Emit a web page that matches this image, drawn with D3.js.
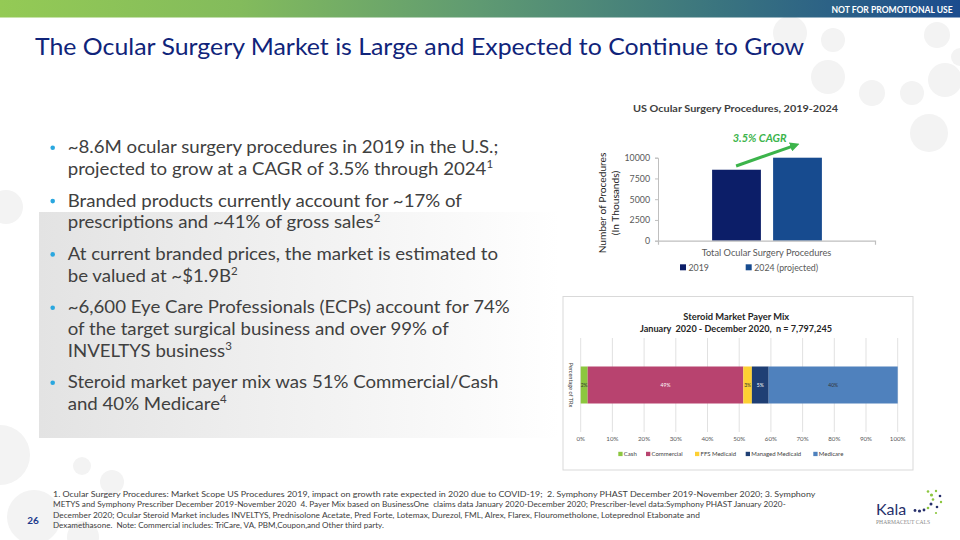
<!DOCTYPE html>
<html><head><meta charset="utf-8">
<script src="https://cdn.jsdelivr.net/npm/d3@7"></script>
<style>html,body{margin:0;padding:0;background:#fff}svg{display:block}text{white-space:pre}</style>
</head><body>
<svg id="c" width="960" height="540"></svg>
<script>
// ---------- data ----------
const procCategories = ["Total Ocular Surgery Procedures"];
const procSeries = ["2019", "2024 (projected)"];
const procValues = [8550, 10000];
const procTicks = [0, 2500, 5000, 7500, 10000];
const procColors = ["#0c1e68", "#174b8f"];

const payerCategories = ["Cash", "Commercial", "FFS Medicaid", "Managed Medicaid", "Medicare"];
const payerValues = [2.2, 49.1, 2.7, 5.3, 40.7];
const payerLabels = ["2%", "49%", "3%", "5%", "40%"];
const payerTicks = [0, 10, 20, 30, 40, 50, 60, 70, 80, 90, 100];
const payerColors = ["#8cc63f", "#b8436f", "#fdd033", "#1f3f74", "#4f81bd"];
const payerLabelColors = ["#333", "#fff", "#333", "#fff", "#333"];

const bullets = [
  [["~8.6M ocular surgery procedures in 2019 in the U.S.;"], ["projected to grow at a CAGR of 3.5% through 2024", "1"]],
  [["Branded products currently account for ~17% of"], ["prescriptions and ~41% of gross sales", "2"]],
  [["At current branded prices, the market is estimated to"], ["be valued at ~$1.9B", "2"]],
  [["~6,600 Eye Care Professionals (ECPs) account for 74%"], ["of the target surgical business and over 99% of"], ["INVELTYS business", "3"]],
  [["Steroid market payer mix was 51% Commercial/Cash"], ["and 40% Medicare", "4"]]
];
const footnotes = [
  "1. Ocular Surgery Procedures: Market Scope US Procedures 2019, impact on growth rate expected in 2020 due to COVID-19;  2. Symphony PHAST December 2019-November 2020; 3. Symphony",
  "METYS and Symphony Prescriber December 2019-November 2020  4. Payer Mix based on BusinessOne  claims data January 2020-December 2020; Prescriber-level data:Symphony PHAST January 2020-",
  "December 2020; Ocular Steroid Market includes INVELTYS, Prednisolone Acetate, Pred Forte, Lotemax, Durezol, FML, Alrex, Flarex, Flourometholone, Loteprednol Etabonate and",
  "Dexamethasone.  Note: Commercial includes: TriCare, VA, PBM,Coupon,and Other third party."
];

// ---------- helpers ----------
const svg = d3.select("#c");
const FONT = "Lato, 'Open Sans', sans-serif";
function fitW(sel, target, ax) {
  const n = sel.node(); const w = n.getBBox().width;
  if (!w) return 1;
  const k = target / w;
  sel.attr("transform", `translate(${ax},0) scale(${k},1) translate(${-ax},0)`);
  return k;
}

// ---------- background ----------
const defs = svg.append("defs");
const hg = defs.append("linearGradient").attr("id", "hdr").attr("x1", 0).attr("x2", 1).attr("y1", 0).attr("y2", 0);
[["0", "#94ca55"], ["0.25", "#83bb5c"], ["0.5", "#5f9a72"], ["0.75", "#3a747f"], ["1", "#1b4c8e"]].forEach(s => hg.append("stop").attr("offset", s[0]).attr("stop-color", s[1]));
const pg = defs.append("linearGradient").attr("id", "pnl").attr("x1", 0).attr("x2", 1).attr("y1", 0).attr("y2", 0);
pg.append("stop").attr("offset", 0).attr("stop-color", "#e3e3e3");
pg.append("stop").attr("offset", 1).attr("stop-color", "#ffffff");

const bgCircles = [[790, 33, 17], [833, 40, 12], [828, 77, 17], [872, 93, 13], [912, 93, 12], [937, 35, 13], [945, 80, 17], [929, 133, 19], [853, 8, 10], [960, 57, 9],
  [0, 455, 30], [82, 466, 9], [112, 482, 12], [34, 517, 27], [83, 537, 16], [6, 207, 17]];
svg.append("g").selectAll("circle").data(bgCircles).join("circle")
  .attr("cx", d => d[0]).attr("cy", d => d[1]).attr("r", d => d[2]).attr("fill", "#f3f3f3");

svg.append("rect").attr("x", 0).attr("y", 0).attr("width", 960).attr("height", 17.5).attr("fill", "url(#hdr)");
const nfp = svg.append("text").attr("x", 952.7).attr("y", 13.2).attr("text-anchor", "end")
  .attr("font-family", FONT).attr("font-weight", 700).attr("font-size", 9.5).attr("fill", "#fff").text("NOT FOR PROMOTIONAL USE");
fitW(nfp, 122, 952.7);

const title = svg.append("text").attr("x", 35).attr("y", 55.5).attr("font-family", FONT).attr("font-size", 23.5)
  .attr("fill", "#10247a").text("The Ocular Surgery Market is Large and Expected to Continue to Grow");
fitW(title, 770, 35);

// panel
svg.append("rect").attr("x", 39).attr("y", 212).attr("width", 520).attr("height", 226).attr("fill", "url(#pnl)");

// ---------- bullets ----------
const bg = svg.append("g");
const lineH = 21.7, paraGap = 31.6;
let y = 153.3;
const lineNodes = [];
bullets.forEach((para, pi) => {
  bg.append("circle").attr("cx", 52.7).attr("cy", y - 5.5).attr("r", 2.3).attr("fill", "#2aa7df");
  para.forEach((ln, li) => {
    const t = bg.append("text").attr("x", 67.7).attr("y", y).attr("font-family", FONT).attr("font-size", 17).attr("fill", "#404040");
    t.append("tspan").text(ln[0]);
    if (ln[1]) t.append("tspan").attr("font-size", 10.5).attr("dy", -6.5).text(ln[1]);
    lineNodes.push(t);
    if (li < para.length - 1) y += lineH;
  });
  y += paraGap;
});
const ref = lineNodes[4];
const kB = 430.6 / ref.node().getBBox().width;
lineNodes.forEach(t => t.attr("transform", `translate(67.7,0) scale(${kB},1) translate(-67.7,0)`));

// ---------- procedures bar chart ----------
const g1 = svg.append("g");
const t1 = g1.append("text").attr("x", 735.5).attr("y", 111.7).attr("text-anchor", "middle").attr("font-family", FONT)
  .attr("font-weight", 700).attr("font-size", 10).attr("fill", "#404040").text("US Ocular Surgery Procedures, 2019-2024");
fitW(t1, 205.6, 735.5);

const yProc = d3.scaleLinear().domain([0, 10000]).range([240.7, 157.7]);
const xCat = d3.scaleBand().domain(procCategories).range([658, 875]);
const xSer = d3.scaleBand().domain(procSeries).range([xCat(procCategories[0]) + 48, xCat(procCategories[0]) + 170]).paddingInner(0.2).paddingOuter(0.1);

const ya = g1.append("g").attr("transform", "translate(658,0)")
  .call(d3.axisLeft(yProc).tickValues(procTicks).tickSize(3).tickPadding(5).tickFormat(d3.format("d")));
ya.select(".domain").attr("stroke", "#bfbfbf");
ya.selectAll(".tick line").attr("stroke", "#bfbfbf");
ya.selectAll("text").attr("font-family", FONT).attr("font-size", 8.8).attr("fill", "#595959");

g1.selectAll("rect.bar").data(procValues).join("rect").attr("class", "bar")
  .attr("x", (d, i) => xSer(procSeries[i])).attr("width", xSer.bandwidth())
  .attr("y", d => yProc(d)).attr("height", d => yProc(0) - yProc(d))
  .attr("fill", (d, i) => procColors[i]);

const xa = g1.append("g").attr("transform", "translate(0,240.7)")
  .call(d3.axisBottom(xCat).tickSizeInner(0).tickSizeOuter(4).tickPadding(9));
xa.select(".domain").attr("stroke", "#bfbfbf").attr("stroke-width", 1.2);
xa.selectAll("text").attr("font-family", FONT).attr("font-size", 8.8).attr("fill", "#595959").each(function () { fitW(d3.select(this), 130, 0); });

g1.append("text").attr("transform", "translate(606,203) rotate(-90)").attr("text-anchor", "middle")
  .attr("font-family", FONT).attr("font-size", 10.2).attr("fill", "#262626").text("Number of Procedures");
g1.append("text").attr("transform", "translate(619,203) rotate(-90)").attr("text-anchor", "middle")
  .attr("font-family", FONT).attr("font-size", 10.2).attr("fill", "#262626").text("(In Thousands)");

// legend
const legX = [680, 745.7];
procSeries.forEach((s, i) => {
  g1.append("rect").attr("x", legX[i]).attr("y", 264.3).attr("width", 6).attr("height", 6).attr("fill", procColors[i]);
  g1.append("text").attr("x", legX[i] + 8.5).attr("y", 270.8).attr("font-family", FONT).attr("font-size", 8.8).attr("fill", "#595959").text(s);
});

// CAGR annotation
defs.append("marker").attr("id", "ah").attr("viewBox", "0 0 10 10").attr("refX", 5).attr("refY", 5)
  .attr("markerWidth", 3.2).attr("markerHeight", 3.2).attr("orient", "auto")
  .append("path").attr("d", "M0,0 L10,5 L0,10 z").attr("fill", "#3cb44b");
g1.append("line").attr("x1", xSer(procSeries[0]) + 24).attr("y1", 166)
  .attr("x2", 795).attr("y2", 145.3).attr("stroke", "#3cb44b").attr("stroke-width", 3).attr("marker-end", "url(#ah)");
const cg = g1.append("text").attr("x", 732.7).attr("y", 142.5).attr("font-family", FONT).attr("font-weight", 700)
  .attr("font-style", "italic").attr("font-size", 10.5).attr("fill", "#3cb44b").text("3.5% CAGR");
fitW(cg, 54, 732.7);

// ---------- payer mix chart ----------
const g2 = svg.append("g");
g2.append("rect").attr("x", 563).attr("y", 296.5).attr("width", 350).attr("height", 173.5).attr("fill", "#fff").attr("stroke", "#d9d9d9");
const pt1 = g2.append("text").attr("x", 736.3).attr("y", 320.3).attr("text-anchor", "middle").attr("font-family", FONT)
  .attr("font-weight", 700).attr("font-size", 9.2).attr("fill", "#262626").text("Steroid Market Payer Mix");
fitW(pt1, 106, 736.3);
const pt2 = g2.append("text").attr("x", 736).attr("y", 331.6).attr("text-anchor", "middle").attr("font-family", FONT)
  .attr("font-weight", 700).attr("font-size", 9.2).attr("fill", "#262626").text("January  2020 - December 2020,  n = 7,797,245");
fitW(pt2, 192, 736);

const xPay = d3.scaleLinear().domain([0, 100]).range([580.7, 897.7]);
const yPay = d3.scaleBand().domain(["Percentage of TRx"]).range([338, 432]).padding(0.435);

g2.append("g").selectAll("line").data(payerTicks).join("line")
  .attr("x1", d => xPay(d)).attr("x2", d => xPay(d)).attr("y1", 338).attr("y2", 432).attr("stroke", "#d9d9d9").attr("stroke-width", 0.8);
g2.append("g").selectAll("text").data(payerTicks).join("text")
  .attr("x", d => xPay(d)).attr("y", 440.8).attr("text-anchor", "middle").attr("font-family", FONT)
  .attr("font-size", 6.2).attr("fill", "#595959").text(d => d + "%");

const row = {}; payerCategories.forEach((c, i) => row[c] = payerValues[i]);
const stacked = d3.stack().keys(payerCategories)([row]);
const by = yPay("Percentage of TRx"), bh = yPay.bandwidth();
g2.append("g").selectAll("rect").data(stacked).join("rect")
  .attr("x", d => xPay(d[0][0])).attr("width", d => xPay(d[0][1]) - xPay(d[0][0]))
  .attr("y", by).attr("height", bh).attr("fill", (d, i) => payerColors[i]);
g2.append("g").selectAll("text").data(stacked).join("text")
  .attr("x", d => xPay((d[0][0] + d[0][1]) / 2)).attr("y", by + bh / 2 + 1.8).attr("text-anchor", "middle")
  .attr("font-family", FONT).attr("font-size", 5).attr("fill", (d, i) => payerLabelColors[i]).text((d, i) => payerLabels[i]);

g2.append("text").attr("transform", `translate(568.5,${by + bh / 2}) rotate(90)`).attr("text-anchor", "middle")
  .attr("font-family", FONT).attr("font-size", 5.6).attr("fill", "#404040").text("Percentage of TRx");

const legPX = [618.3, 646, 695, 745.7, 813.3];
payerCategories.forEach((c, i) => {
  g2.append("rect").attr("x", legPX[i]).attr("y", 451.8).attr("width", 4.3).attr("height", 4.3).attr("fill", payerColors[i]);
  g2.append("text").attr("x", legPX[i] + 5.5).attr("y", 456.3).attr("font-family", FONT).attr("font-size", 6).attr("fill", "#404040").text(c);
});

// ---------- footer ----------
const fg = svg.append("g");
const fy = [497.2, 507.4, 517.6, 527.8];
const fw = [762, 733, 647, 331];
footnotes.forEach((f, i) => {
  const t = fg.append("text").attr("x", 53).attr("y", fy[i]).attr("font-family", FONT)
    .attr("font-size", 7.2).attr("fill", "#404040").text(f);
  fitW(t, fw[i], 53);
});

svg.append("text").attr("x", 33).attr("y", 524).attr("text-anchor", "middle").attr("font-family", FONT)
  .attr("font-weight", 700).attr("font-size", 10).attr("fill", "#1c3a8c").text("26");

// logo
const lg = svg.append("g");
lg.append("text").attr("x", 876).attr("y", 515).attr("font-family", FONT).attr("font-size", 16).attr("fill", "#27306b").text("Kala");
lg.append("text").attr("x", 876).attr("y", 523.5).attr("font-family", "'Liberation Serif', serif").attr("font-size", 5.6)
  .attr("fill", "#8a8a8a").text("PHARMACEUT CALS");
const logoDots = [[915, 510.5, 1.4, "#27306b"], [919.5, 511, 1.6, "#27306b"], [924, 510, 1.4, "#27306b"], [928, 508, 1.3, "#8cc63f"],
  [931, 504, 1.5, "#27306b"], [933, 499.5, 1.3, "#8cc63f"], [931.5, 495, 1.6, "#8cc63f"], [928, 491.5, 1.3, "#8cc63f"],
  [936, 491, 1.2, "#8cc63f"], [940, 496, 1.3, "#27306b"], [941, 502, 1.2, "#8cc63f"], [937, 507, 1.3, "#27306b"], [936, 513, 1.1, "#8cc63f"]];
lg.selectAll("circle").data(logoDots).join("circle").attr("cx", d => d[0]).attr("cy", d => d[1]).attr("r", d => d[2]).attr("fill", d => d[3]);
</script>
</body></html>
